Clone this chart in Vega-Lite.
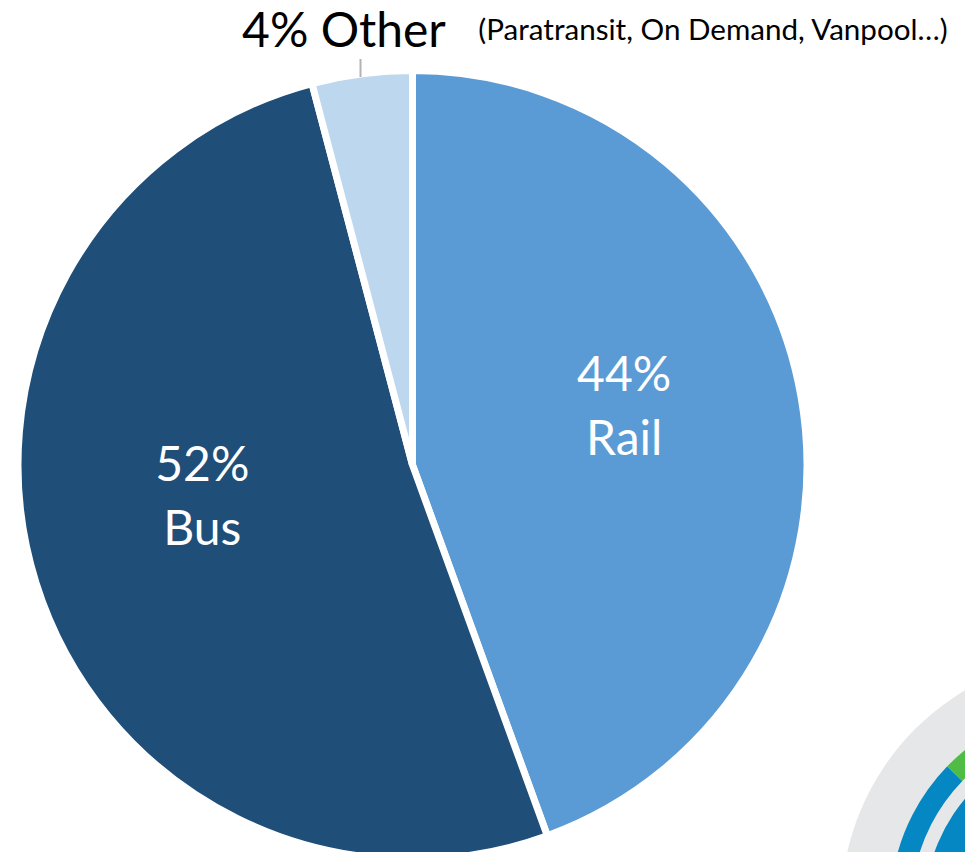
{"$schema":"https://vega.github.io/schema/vega-lite/v6.json","width":965,"height":852,"padding":0,"autosize":{"type":"none"},"background":"white","config":{"view":{"stroke":null},"text":{"font":"Lato"}},"resolve":{"scale":{"theta":"independent","color":"independent"}},"layer":[
{"data":{"name":"logo","values":[{"part":"disk","start":0,"end":360}]},"mark":{"type":"arc","radius":253,"radius2":0,"color":"#e6e7e8"},"encoding":{"x":{"datum":1094,"type":"quantitative","scale":{"domain":[0,965]},"axis":null},"y":{"datum":908,"type":"quantitative","scale":{"domain":[852,0]},"axis":null},"theta":{"field":"start","type":"quantitative","scale":{"domain":[0,360]}},"theta2":{"field":"end"}}},
{"data":{"name":"ringOuter","values":[{"part":"blue","start":180,"end":314},{"part":"green","start":314,"end":360}]},"mark":{"type":"arc","radius":204,"radius2":183},"encoding":{"x":{"datum":1094,"type":"quantitative","scale":{"domain":[0,965]},"axis":null},"y":{"datum":908,"type":"quantitative","scale":{"domain":[852,0]},"axis":null},"theta":{"field":"start","type":"quantitative","scale":{"domain":[0,360]}},"theta2":{"field":"end"},"color":{"field":"part","type":"nominal","scale":{"domain":["blue","green"],"range":["#0587c3","#4fbc45"]},"legend":null}}},
{"data":{"name":"ringInner","values":[{"part":"blue","start":180,"end":360}]},"mark":{"type":"arc","radius":169,"radius2":100,"color":"#0587c3"},"encoding":{"x":{"datum":1094,"type":"quantitative","scale":{"domain":[0,965]},"axis":null},"y":{"datum":908,"type":"quantitative","scale":{"domain":[852,0]},"axis":null},"theta":{"field":"start","type":"quantitative","scale":{"domain":[0,360]}},"theta2":{"field":"end"}}},
{"layer":[
{"mark":{"type":"arc","radius":394.5,"radius2":0,"stroke":"white","strokeWidth":7},"encoding":{"theta":{"field":"s0","type":"quantitative","scale":{"domain":[0,100]}},"theta2":{"field":"s1"},"color":{"field":"mode","type":"nominal","scale":{"domain":["Rail","Bus","Other"],"range":["#5b9bd5","#1f4e79","#bdd7ee"]},"legend":null}}},
{"transform":[{"filter":"datum.mode === 'Rail'"}],"mark":{"type":"text","radius":219,"dx":-4,"dy":-50,"fontSize":48,"color":"white","lineBreak":"\n","lineHeight":64,"align":"center","baseline":"middle"},"encoding":{"theta":{"field":"mid","type":"quantitative","scale":{"domain":[0,100]}},"text":{"field":"label"}}},
{"transform":[{"filter":"datum.mode === 'Bus'"}],"mark":{"type":"text","radius":216,"dx":-4,"dy":-62,"fontSize":48,"color":"white","lineBreak":"\n","lineHeight":64,"align":"center","baseline":"middle"},"encoding":{"theta":{"field":"mid","type":"quantitative","scale":{"domain":[0,100]}},"text":{"field":"label"}}},
{"transform":[{"filter":"datum.mode === 'Other'"}],"mark":{"type":"text","radius":440,"dx":-12,"dy":4,"fontSize":48,"color":"black","align":"center","baseline":"middle"},"encoding":{"theta":{"field":"mid","type":"quantitative","scale":{"domain":[0,100]}},"text":{"field":"label"}}},
{"transform":[{"filter":"datum.mode === 'Other'"}],"mark":{"type":"text","radius":440,"dx":357,"dy":2,"fontSize":29.6,"color":"black","align":"center","baseline":"middle"},"encoding":{"theta":{"field":"mid","type":"quantitative","scale":{"domain":[0,100]}},"text":{"field":"note"}}}
],
"data":{"name":"share","values":[{"mode":"Rail","value":44.45,"order":1,"label":"44%\nRail","note":""},{"mode":"Bus","value":51.45,"order":2,"label":"52%\nBus","note":""},{"mode":"Other","value":4.1,"order":3,"label":"4% Other","note":"(Paratransit, On Demand, Vanpool…)"}]},
"transform":[{"stack":"value","sort":[{"field":"order","order":"ascending"}],"as":["s0","s1"]},{"calculate":"(datum.s0 + datum.s1) / 2","as":"mid"}],
"encoding":{"x":{"datum":412.5,"type":"quantitative","scale":{"domain":[0,965]},"axis":null},"y":{"datum":465,"type":"quantitative","scale":{"domain":[852,0]},"axis":null}}},
{"data":{"name":"leader","values":[{"a":59,"b":77}]},"mark":{"type":"rule","color":"#b3b3b3","strokeWidth":2},"encoding":{"x":{"datum":360.5,"type":"quantitative","scale":{"domain":[0,965]},"axis":null},"y":{"field":"a","type":"quantitative","scale":{"domain":[852,0]},"axis":null},"y2":{"field":"b"}}}
]}
